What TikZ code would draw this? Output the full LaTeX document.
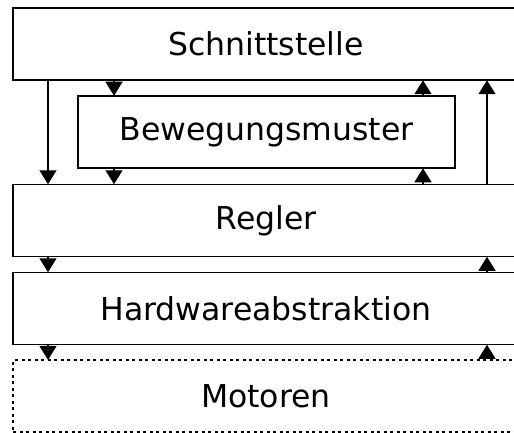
\documentclass[tikz,border=0pt]{standalone}
\usepackage{fontspec}
\setmainfont{DejaVu Sans}
\usetikzlibrary{arrows.meta}
\begin{document}
\begin{tikzpicture}[x=1pt,y=-1pt,
  layer/.style={draw, line width=1.5pt, minimum width=506pt, minimum height=72pt,
    inner sep=0pt, font=\fontsize{31.5}{36}\selectfont},
  motorbox/.style={layer, line width=1.1pt, dash pattern=on 3pt off 3.5pt},
  arr/.style={line width=1.3pt, -{Triangle[length=14pt,width=17pt]}, shorten >=-0.5pt}]
\clip (0,0) rectangle (514,433);
\useasboundingbox (0,0) rectangle (514,433);
\node[layer] (schnitt) at (266,44) {Schnittstelle};
\node[layer, minimum width=377pt] (beweg) at (266.5,132) {Bewegungsmuster};
\node[layer] (regler) at (266,220.5) {Regler};
\node[layer] (hw) at (266,308.5) {Hardwareabstraktion};
\node[motorbox] (mot) at (266,396) {Motoren};
% downward paths
\draw[arr] (schnitt.south -| 48,0) -- (regler.north -| 48,0);
\draw[arr] (schnitt.south -| 114,0) -- (beweg.north -| 114,0);
\draw[arr] (beweg.south -| 114,0) -- (regler.north -| 114,0);
\draw[arr] (regler.south -| 48,0) -- (hw.north -| 48,0);
\draw[arr] (hw.south -| 48,0) -- (mot.north -| 48,0);
% upward paths
\draw[arr] (beweg.north -| 423,0) -- (schnitt.south -| 423,0);
\draw[arr] (regler.north -| 423,0) -- (beweg.south -| 423,0);
\draw[arr] (regler.north -| 487,0) -- (schnitt.south -| 487,0);
\draw[arr] (hw.north -| 487,0) -- (regler.south -| 487,0);
\draw[arr] (mot.north -| 487,0) -- (hw.south -| 487,0);
\end{tikzpicture}
\end{document}
